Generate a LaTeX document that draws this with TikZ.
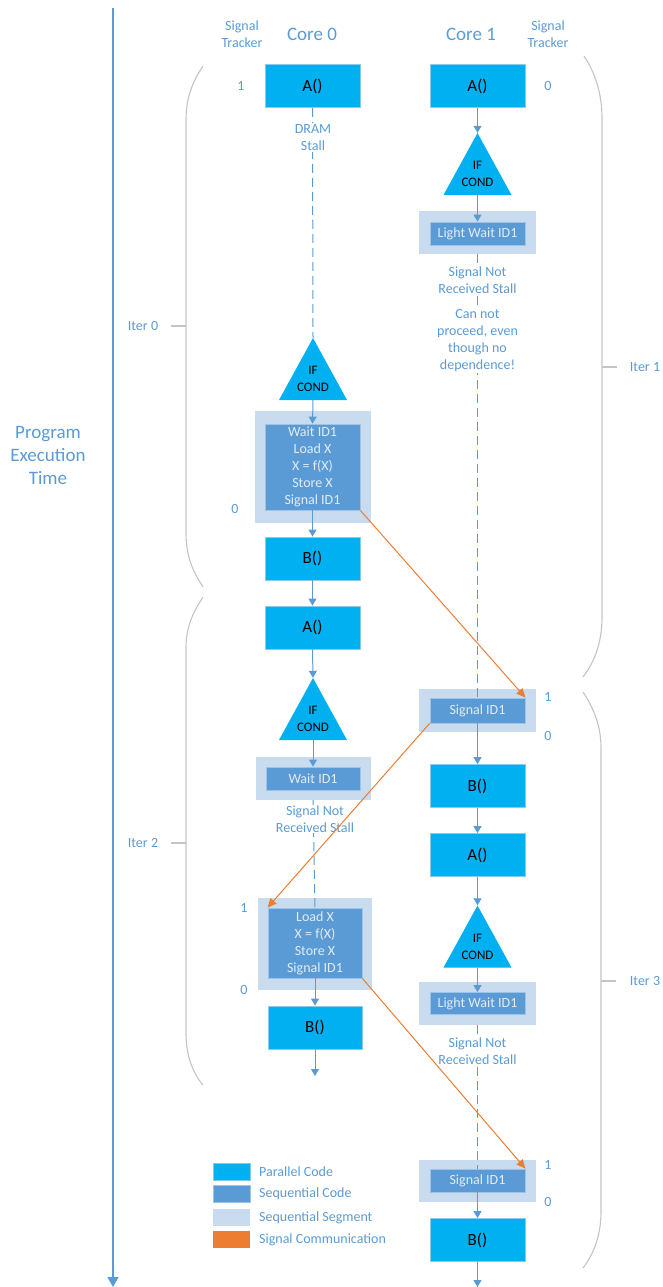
\documentclass[tikz,border=0pt]{standalone}
\usepackage{fontspec}
\setmainfont{Carlito}
\usetikzlibrary{arrows.meta}

\definecolor{parcol}{HTML}{00B0F0}
\definecolor{parline}{HTML}{8CCBE8}
\definecolor{seqcol}{HTML}{5B9BD5}
\definecolor{seqline}{HTML}{9DC3E6}
\definecolor{seqtext}{HTML}{E2ECF7}
\definecolor{segcol}{HTML}{C9DBEE}
\definecolor{labcol}{HTML}{5B9BD5}
\definecolor{flowcol}{HTML}{5B9BD5}
\definecolor{sigcol}{HTML}{ED7D31}
\definecolor{bracecol}{HTML}{C4C4C4}

\tikzset{
  parbox/.style={draw=parline, line width=0.8pt, fill=parcol, minimum width=95pt,
    minimum height=43pt, inner sep=0pt, font=\fontsize{17}{20}\selectfont},
  seqbox/.style={draw=seqline, line width=0.8pt, fill=seqcol, text=seqtext,
    minimum width=95pt, inner sep=0pt, align=center, font=\fontsize{14}{17}\selectfont},
  segbox/.style={fill=segcol, inner sep=0pt},
  condtri/.style={minimum width=68pt, minimum height=62pt, inner sep=0pt,
    path picture={\fill[parcol] (path picture bounding box.south west) --
      (path picture bounding box.south east) -- (path picture bounding box.north) -- cycle;}},
  trilabel/.style={align=center, inner sep=0pt, font=\fontsize{13}{17}\selectfont},
  lab/.style={text=labcol, align=center, inner sep=0pt, font=\fontsize{14}{17}\selectfont},
  stalltext/.style={lab, fill=white, inner sep=1pt},
  head/.style={text=labcol, align=center, inner sep=0pt, font=\fontsize{19}{23}\selectfont},
  flow/.style={draw=flowcol, line width=1pt, -{Triangle[width=8pt,length=7pt]}},
  stall/.style={draw=flowcol, line width=1pt, dash pattern=on 9pt off 5pt},
  signal/.style={draw=sigcol, line width=1pt, -{Triangle[width=8pt,length=9pt]}},
  iterbrace/.style={draw=bracecol, line width=1.1pt},
  swatch/.style={minimum width=37pt, minimum height=17pt, inner sep=0pt},
  legtext/.style={text=labcol, anchor=west, inner sep=0pt, font=\fontsize{14}{17}\selectfont}
}

\begin{document}
\begin{tikzpicture}[x=1pt,y=-1pt]
\useasboundingbox (0,0) rectangle (663,1287);

% time axis
\coordinate (tTop) at (113,8);
\coordinate (tEnd) at (113,1287);
\draw[draw=flowcol, line width=1.2pt, -{Triangle[width=11pt,length=10pt]}] (tTop) -- (tEnd);
\node[head] (ptime) at (48,455) {Program\\Execution\\Time};

% column headings
\node[lab] (st0) at (242,34) {Signal\\Tracker};
\node[head] (c0) at (312,34) {Core 0};
\node[head] (c1) at (471,34) {Core 1};
\node[lab] (st1) at (548,34) {Signal\\Tracker};

% iteration braces
\draw[iterbrace] (203,66) .. controls (191,84) and (186,100) .. (186,120) -- (186,533)
  .. controls (186,553) and (191,569) .. (203,587);
\draw[iterbrace] (203,597) .. controls (191,615) and (186,630) .. (186,648) -- (186,1033)
  .. controls (186,1052) and (191,1071) .. (203,1085);
\draw[iterbrace] (584,56) .. controls (596,74) and (602,95) .. (602,118) -- (602,617)
  .. controls (602,640) and (596,660) .. (583,677);
\draw[iterbrace] (583,692) .. controls (595,710) and (601,728) .. (601,748) -- (601,1211)
  .. controls (601,1234) and (595,1252) .. (583,1268);
\draw[iterbrace] (171,326) -- (186,326);
\draw[iterbrace] (171,843) -- (186,843);
\draw[iterbrace] (602,367) -- (617,367);
\draw[iterbrace] (601,981) -- (616,981);
\node[lab] (it0) at (143,326) {Iter 0};
\node[lab] (it2) at (143,843) {Iter 2};
\node[lab] (it1) at (645,367) {Iter 1};
\node[lab] (it3) at (645,981) {Iter 3};

% ---------------- Core 0 ----------------
\node[parbox] (a0a) at (312.5,86) {A()};
\node[condtri] (t0a) at (313,369) {};
\node[trilabel] (t0al) at (313,379) {IF\\COND};
\node[segbox, minimum width=116pt, minimum height=112pt] (g0a) at (313,467) {};
\node[seqbox, minimum height=86pt] (s0a) at (312.5,467)
  {Wait ID1\\Load X\\X = f(X)\\Store X\\Signal ID1};
\node[parbox] (b0a) at (312.5,558.5) {B()};
\node[parbox] (a0b) at (312.5,627.5) {A()};
\node[condtri] (t0b) at (313,709) {};
\node[trilabel] (t0bl) at (313,719) {IF\\COND};
\node[segbox, minimum width=115pt, minimum height=43pt] (g0b) at (313,778.5) {};
\node[seqbox, minimum width=94pt, minimum height=23pt] (s0b) at (313,778.5) {Wait ID1};
\node[segbox, minimum width=114pt, minimum height=92pt] (g0c) at (315,944) {};
\node[seqbox, minimum width=94pt, minimum height=70pt] (s0c) at (315,943)
  {Load X\\X = f(X)\\Store X\\Signal ID1};
\node[parbox, minimum width=94pt] (b0c) at (315,1027.5) {B()};
\coordinate (e0) at (315,1076);

% signal trackers, core 0
\node[lab] (k0a) at (241,86) {1};
\node[lab] (k0b) at (235,509) {0};
\node[lab] (k0c) at (244,908) {1};
\node[lab] (k0d) at (244,990) {0};

% ---------------- Core 1 ----------------
\node[parbox] (a1a) at (477.5,86) {A()};
\node[condtri] (t1a) at (477.5,164) {};
\node[trilabel] (t1al) at (477.5,174) {IF\\COND};
\node[segbox, minimum width=117pt, minimum height=43pt] (g1a) at (477.5,232.5) {};
\node[seqbox, minimum height=23pt] (s1a) at (477.5,233.5) {Light Wait ID1};
\node[segbox, minimum width=117pt, minimum height=43pt] (g1b) at (477.5,710.5) {};
\node[seqbox, minimum height=25pt] (s1b) at (477.5,710.5) {Signal ID1};
\node[parbox] (b1a) at (477.5,786) {B()};
\node[parbox] (a1b) at (477.5,855) {A()};
\node[condtri] (t1b) at (477.5,936.5) {};
\node[trilabel] (t1bl) at (477.5,946.5) {IF\\COND};
\node[segbox, minimum width=117pt, minimum height=43pt] (g1c) at (477.5,1003.5) {};
\node[seqbox, minimum height=22pt] (s1c) at (477.5,1003.5) {Light Wait ID1};
\node[segbox, minimum width=117pt, minimum height=42pt] (g1d) at (477.5,1181) {};
\node[seqbox, minimum height=23pt] (s1d) at (477.5,1180.5) {Signal ID1};
\node[parbox] (b1b) at (477.5,1240) {B()};
\coordinate (e1) at (477.5,1287);

% signal trackers, core 1
\node[lab] (k1a) at (548,86) {0};
\node[lab] (k1b) at (548,697) {1};
\node[lab] (k1c) at (548,736) {0};
\node[lab] (k1d) at (548,1165) {1};
\node[lab] (k1e) at (548,1202) {0};

% ---------------- control flow ----------------
\draw[stall] (a0a.south) -- (t0a.north);
\draw[flow] (t0a.south) -- (s0a.north);
\draw[flow] (s0a.south) -- (b0a.north);
\draw[flow] (b0a.south) -- (a0b.north);
\draw[flow] (a0b.south) -- (t0b.north);
\draw[flow] (t0b.south) -- (s0b.north);
\draw[stall] (g0b.south) -- (s0c.north);
\draw[flow] (s0c.south) -- (b0c.north);
\draw[flow] (b0c.south) -- (e0);

\draw[flow] (a1a.south) -- (t1a.north);
\draw[flow] (t1a.south) -- (s1a.north);
\draw[stall] (g1a.south) -- (s1b.north);
\draw[flow] (s1b.south) -- (b1a.north);
\draw[flow] (b1a.south) -- (a1b.north);
\draw[flow] (a1b.south) -- (t1b.north);
\draw[flow] (t1b.south) -- (s1c.north);
\draw[stall] (g1c.south) -- (s1d.north);
\draw[flow] (s1d.south) -- (b1b.north);
\draw[flow] (b1b.south) -- (e1);

% stall annotations
\node[stalltext] (n0a) at (313,137.5) {DRAM\\Stall};
\node[stalltext] (n0b) at (315,819) {Signal Not\\Received Stall};
\node[stalltext] (n1a) at (477.5,280.5) {Signal Not\\Received Stall};
\node[stalltext] (n1b) at (477.5,340.5) {Can not\\proceed, even\\though no\\dependence!};
\node[stalltext] (n1c) at (477.5,1051.5) {Signal Not\\Received Stall};

% signal communication
\draw[signal] (s0a.south east) -- (s1b.north east);
\draw[signal] (s1b.south west) -- (s0c.north west);
\draw[signal] (s0c.south east) -- (s1d.north east);

% legend
\node[swatch, fill=parcol, draw=parline] (lg1) at (231.5,1172) {};
\node[swatch, fill=seqcol, draw=seqline] (lg2) at (231.5,1194) {};
\node[swatch, fill=segcol] (lg3) at (231.5,1217.5) {};
\node[swatch, fill=sigcol] (lg4) at (231.5,1239.5) {};
\node[legtext] (lt1) at (259,1172) {Parallel Code};
\node[legtext] (lt2) at (259,1194) {Sequential Code};
\node[legtext] (lt3) at (259,1217.5) {Sequential Segment};
\node[legtext] (lt4) at (259,1239.5) {Signal Communication};
\end{tikzpicture}
\end{document}
